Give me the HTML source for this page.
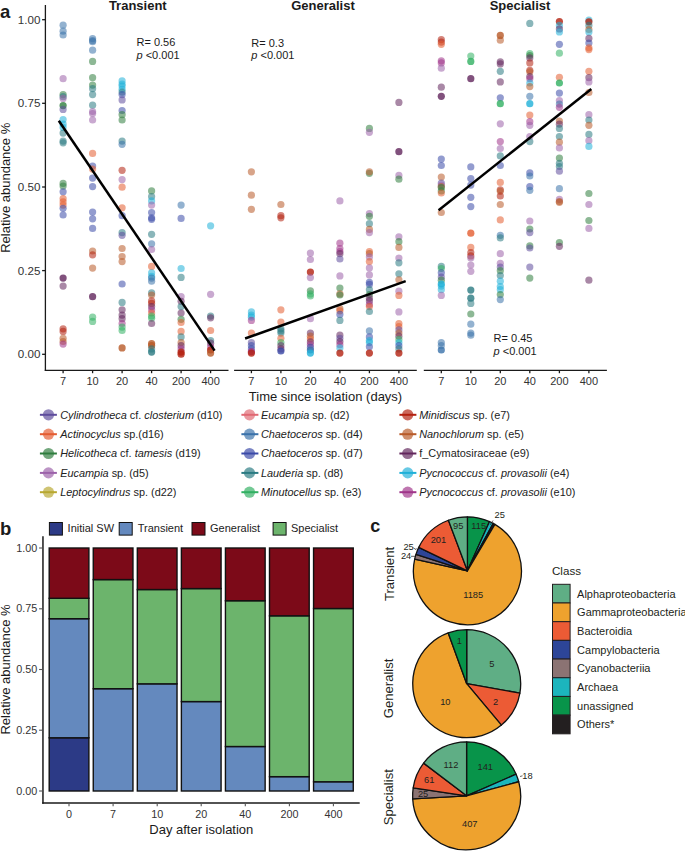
<!DOCTYPE html>
<html><head><meta charset="utf-8"><style>
html,body{margin:0;padding:0;background:#fff;}
svg{display:block;font-family:"Liberation Sans", sans-serif;}
</style></head><body>
<svg width="685" height="851" viewBox="0 0 685 851">
<rect width="685" height="851" fill="#fff"/>
<text x="0" y="17.9" font-size="18.5" font-weight="bold" fill="#1a1a1a">a</text>
<text x="137.8" y="10" font-size="13" font-weight="bold" text-anchor="middle" fill="#1a1a1a">Transient</text>
<text x="323" y="10" font-size="13" font-weight="bold" text-anchor="middle" fill="#1a1a1a">Generalist</text>
<text x="520" y="10" font-size="13" font-weight="bold" text-anchor="middle" fill="#1a1a1a">Specialist</text>
<line x1="45.4" y1="5" x2="45.4" y2="371" stroke="#1a1a1a" stroke-width="1.3"/>
<line x1="42.1" y1="19.7" x2="45.3" y2="19.7" stroke="#1a1a1a" stroke-width="1.3"/>
<text x="40.4" y="23.7" font-size="11.6" text-anchor="end" fill="#333">1.00</text>
<line x1="42.1" y1="103.3" x2="45.3" y2="103.3" stroke="#1a1a1a" stroke-width="1.3"/>
<text x="40.4" y="107.3" font-size="11.6" text-anchor="end" fill="#333">0.75</text>
<line x1="42.1" y1="187.0" x2="45.3" y2="187.0" stroke="#1a1a1a" stroke-width="1.3"/>
<text x="40.4" y="191.0" font-size="11.6" text-anchor="end" fill="#333">0.50</text>
<line x1="42.1" y1="270.6" x2="45.3" y2="270.6" stroke="#1a1a1a" stroke-width="1.3"/>
<text x="40.4" y="274.6" font-size="11.6" text-anchor="end" fill="#333">0.25</text>
<line x1="42.1" y1="354.3" x2="45.3" y2="354.3" stroke="#1a1a1a" stroke-width="1.3"/>
<text x="40.4" y="358.3" font-size="11.6" text-anchor="end" fill="#333">0.00</text>
<text transform="translate(9.9,187.8) rotate(-90)" font-size="13" text-anchor="middle" fill="#1a1a1a">Relative abundance %</text>
<line x1="44.8" y1="370.4" x2="228.5" y2="370.4" stroke="#1a1a1a" stroke-width="1.3"/>
<line x1="63.1" y1="370.4" x2="63.1" y2="373.2" stroke="#1a1a1a" stroke-width="1.3"/>
<text x="63.1" y="384.8" font-size="11" text-anchor="middle" fill="#333">7</text>
<line x1="92.6" y1="370.4" x2="92.6" y2="373.2" stroke="#1a1a1a" stroke-width="1.3"/>
<text x="92.6" y="384.8" font-size="11" text-anchor="middle" fill="#333">10</text>
<line x1="122.1" y1="370.4" x2="122.1" y2="373.2" stroke="#1a1a1a" stroke-width="1.3"/>
<text x="122.1" y="384.8" font-size="11" text-anchor="middle" fill="#333">20</text>
<line x1="151.6" y1="370.4" x2="151.6" y2="373.2" stroke="#1a1a1a" stroke-width="1.3"/>
<text x="151.6" y="384.8" font-size="11" text-anchor="middle" fill="#333">40</text>
<line x1="181.1" y1="370.4" x2="181.1" y2="373.2" stroke="#1a1a1a" stroke-width="1.3"/>
<text x="181.1" y="384.8" font-size="11" text-anchor="middle" fill="#333">200</text>
<line x1="210.6" y1="370.4" x2="210.6" y2="373.2" stroke="#1a1a1a" stroke-width="1.3"/>
<text x="210.6" y="384.8" font-size="11" text-anchor="middle" fill="#333">400</text>
<line x1="234.1" y1="370.4" x2="416.8" y2="370.4" stroke="#1a1a1a" stroke-width="1.3"/>
<line x1="251.4" y1="370.4" x2="251.4" y2="373.2" stroke="#1a1a1a" stroke-width="1.3"/>
<text x="251.4" y="384.8" font-size="11" text-anchor="middle" fill="#333">7</text>
<line x1="280.9" y1="370.4" x2="280.9" y2="373.2" stroke="#1a1a1a" stroke-width="1.3"/>
<text x="280.9" y="384.8" font-size="11" text-anchor="middle" fill="#333">10</text>
<line x1="310.4" y1="370.4" x2="310.4" y2="373.2" stroke="#1a1a1a" stroke-width="1.3"/>
<text x="310.4" y="384.8" font-size="11" text-anchor="middle" fill="#333">20</text>
<line x1="339.9" y1="370.4" x2="339.9" y2="373.2" stroke="#1a1a1a" stroke-width="1.3"/>
<text x="339.9" y="384.8" font-size="11" text-anchor="middle" fill="#333">40</text>
<line x1="369.4" y1="370.4" x2="369.4" y2="373.2" stroke="#1a1a1a" stroke-width="1.3"/>
<text x="369.4" y="384.8" font-size="11" text-anchor="middle" fill="#333">200</text>
<line x1="398.9" y1="370.4" x2="398.9" y2="373.2" stroke="#1a1a1a" stroke-width="1.3"/>
<text x="398.9" y="384.8" font-size="11" text-anchor="middle" fill="#333">400</text>
<line x1="423.8" y1="370.4" x2="606.9" y2="370.4" stroke="#1a1a1a" stroke-width="1.3"/>
<line x1="441.3" y1="370.4" x2="441.3" y2="373.2" stroke="#1a1a1a" stroke-width="1.3"/>
<text x="441.3" y="384.8" font-size="11" text-anchor="middle" fill="#333">7</text>
<line x1="470.8" y1="370.4" x2="470.8" y2="373.2" stroke="#1a1a1a" stroke-width="1.3"/>
<text x="470.8" y="384.8" font-size="11" text-anchor="middle" fill="#333">10</text>
<line x1="500.3" y1="370.4" x2="500.3" y2="373.2" stroke="#1a1a1a" stroke-width="1.3"/>
<text x="500.3" y="384.8" font-size="11" text-anchor="middle" fill="#333">20</text>
<line x1="529.8" y1="370.4" x2="529.8" y2="373.2" stroke="#1a1a1a" stroke-width="1.3"/>
<text x="529.8" y="384.8" font-size="11" text-anchor="middle" fill="#333">40</text>
<line x1="559.4" y1="370.4" x2="559.4" y2="373.2" stroke="#1a1a1a" stroke-width="1.3"/>
<text x="559.4" y="384.8" font-size="11" text-anchor="middle" fill="#333">200</text>
<line x1="588.9" y1="370.4" x2="588.9" y2="373.2" stroke="#1a1a1a" stroke-width="1.3"/>
<text x="588.9" y="384.8" font-size="11" text-anchor="middle" fill="#333">400</text>
<text x="325.5" y="400.6" font-size="13" text-anchor="middle" fill="#1a1a1a">Time since isolation (days)</text>
<circle cx="63.1" cy="25.2" r="3.6" fill="#3a72aa" fill-opacity="0.55"/>
<circle cx="63.1" cy="31.2" r="3.6" fill="#3a72aa" fill-opacity="0.55"/>
<circle cx="63.1" cy="35.0" r="3.6" fill="#3a72aa" fill-opacity="0.55"/>
<circle cx="63.1" cy="78.7" r="3.6" fill="#9c62aa" fill-opacity="0.55"/>
<circle cx="63.1" cy="94.6" r="3.6" fill="#2f7d3e" fill-opacity="0.55"/>
<circle cx="63.1" cy="96.7" r="3.6" fill="#2a7a82" fill-opacity="0.55"/>
<circle cx="63.1" cy="98.4" r="3.6" fill="#9c62aa" fill-opacity="0.55"/>
<circle cx="63.1" cy="105.6" r="3.6" fill="#2f7d3e" fill-opacity="0.8"/>
<circle cx="63.1" cy="109.4" r="3.6" fill="#5e4c9c" fill-opacity="0.55"/>
<circle cx="63.1" cy="119.6" r="3.6" fill="#1fb0d8" fill-opacity="0.55"/>
<circle cx="63.1" cy="124.2" r="3.6" fill="#1fb0d8" fill-opacity="0.55"/>
<circle cx="63.1" cy="127.4" r="3.6" fill="#1fb0d8" fill-opacity="0.55"/>
<circle cx="63.1" cy="133.1" r="3.6" fill="#2a7a82" fill-opacity="0.55"/>
<circle cx="63.1" cy="141.1" r="3.6" fill="#2a7a82" fill-opacity="0.55"/>
<circle cx="63.1" cy="142.8" r="3.6" fill="#2a7a82" fill-opacity="0.55"/>
<circle cx="63.1" cy="183.4" r="3.6" fill="#2f7d3e" fill-opacity="0.55"/>
<circle cx="63.1" cy="186.1" r="3.6" fill="#2f7d3e" fill-opacity="0.55"/>
<circle cx="63.1" cy="191.8" r="3.6" fill="#3b4aa8" fill-opacity="0.55"/>
<circle cx="63.1" cy="198.7" r="3.6" fill="#e45c30" fill-opacity="0.55"/>
<circle cx="63.1" cy="201.9" r="3.6" fill="#e45c30" fill-opacity="0.55"/>
<circle cx="63.1" cy="205.1" r="3.6" fill="#e45c30" fill-opacity="0.55"/>
<circle cx="63.1" cy="208.3" r="3.6" fill="#3b4aa8" fill-opacity="0.55"/>
<circle cx="63.1" cy="215.0" r="3.6" fill="#3b4aa8" fill-opacity="0.55"/>
<circle cx="63.1" cy="278.1" r="3.6" fill="#62265c" fill-opacity="0.8"/>
<circle cx="63.1" cy="286.1" r="3.6" fill="#62265c" fill-opacity="0.55"/>
<circle cx="63.1" cy="328.8" r="3.6" fill="#b3200f" fill-opacity="0.55"/>
<circle cx="63.1" cy="331.4" r="3.6" fill="#b3200f" fill-opacity="0.55"/>
<circle cx="63.1" cy="338.3" r="3.6" fill="#b85a28" fill-opacity="0.55"/>
<circle cx="63.1" cy="341.5" r="3.6" fill="#b85a28" fill-opacity="0.55"/>
<circle cx="63.1" cy="344.1" r="3.6" fill="#a0358a" fill-opacity="0.55"/>
<circle cx="92.6" cy="38.6" r="3.6" fill="#3a72aa" fill-opacity="0.55"/>
<circle cx="92.6" cy="40.7" r="3.6" fill="#3a72aa" fill-opacity="0.55"/>
<circle cx="92.6" cy="41.7" r="3.6" fill="#3a72aa" fill-opacity="0.55"/>
<circle cx="92.6" cy="50.2" r="3.6" fill="#3a72aa" fill-opacity="0.55"/>
<circle cx="92.6" cy="61.4" r="3.6" fill="#2f7d3e" fill-opacity="0.55"/>
<circle cx="92.6" cy="77.7" r="3.6" fill="#2f7d3e" fill-opacity="0.55"/>
<circle cx="92.6" cy="85.1" r="3.6" fill="#2f7d3e" fill-opacity="0.55"/>
<circle cx="92.6" cy="88.7" r="3.6" fill="#2a7a82" fill-opacity="0.55"/>
<circle cx="92.6" cy="94.6" r="3.6" fill="#2a7a82" fill-opacity="0.55"/>
<circle cx="92.6" cy="105.2" r="3.6" fill="#2a7a82" fill-opacity="0.55"/>
<circle cx="92.6" cy="111.5" r="3.6" fill="#9c62aa" fill-opacity="0.55"/>
<circle cx="92.6" cy="113.6" r="3.6" fill="#9c62aa" fill-opacity="0.55"/>
<circle cx="92.6" cy="120.0" r="3.6" fill="#9c62aa" fill-opacity="0.55"/>
<circle cx="92.6" cy="153.4" r="3.6" fill="#e45c30" fill-opacity="0.55"/>
<circle cx="92.6" cy="166.1" r="3.6" fill="#3b4aa8" fill-opacity="0.55"/>
<circle cx="92.6" cy="169.1" r="3.6" fill="#e45c30" fill-opacity="0.55"/>
<circle cx="92.6" cy="178.1" r="3.6" fill="#3b4aa8" fill-opacity="0.55"/>
<circle cx="92.6" cy="186.6" r="3.6" fill="#3b4aa8" fill-opacity="0.55"/>
<circle cx="92.6" cy="212.1" r="3.6" fill="#3b4aa8" fill-opacity="0.55"/>
<circle cx="92.6" cy="218.8" r="3.6" fill="#3b4aa8" fill-opacity="0.55"/>
<circle cx="92.6" cy="228.4" r="3.6" fill="#3b4aa8" fill-opacity="0.55"/>
<circle cx="92.6" cy="251.0" r="3.6" fill="#b85a28" fill-opacity="0.55"/>
<circle cx="92.6" cy="254.8" r="3.6" fill="#b3200f" fill-opacity="0.55"/>
<circle cx="92.6" cy="268.1" r="3.6" fill="#b85a28" fill-opacity="0.55"/>
<circle cx="92.6" cy="296.7" r="3.6" fill="#62265c" fill-opacity="0.8"/>
<circle cx="92.6" cy="317.2" r="3.6" fill="#31b062" fill-opacity="0.55"/>
<circle cx="92.6" cy="321.4" r="3.6" fill="#31b062" fill-opacity="0.55"/>
<circle cx="122.1" cy="80.9" r="3.6" fill="#1fb0d8" fill-opacity="0.55"/>
<circle cx="122.1" cy="84.0" r="3.6" fill="#1fb0d8" fill-opacity="0.55"/>
<circle cx="122.1" cy="86.1" r="3.6" fill="#1fb0d8" fill-opacity="0.55"/>
<circle cx="122.1" cy="89.3" r="3.6" fill="#1fb0d8" fill-opacity="0.55"/>
<circle cx="122.1" cy="92.1" r="3.6" fill="#2a7a82" fill-opacity="0.55"/>
<circle cx="122.1" cy="94.6" r="3.6" fill="#3b4aa8" fill-opacity="0.55"/>
<circle cx="122.1" cy="99.9" r="3.6" fill="#5e4c9c" fill-opacity="0.55"/>
<circle cx="122.1" cy="110.5" r="3.6" fill="#3b4aa8" fill-opacity="0.55"/>
<circle cx="122.1" cy="114.7" r="3.6" fill="#2f7d3e" fill-opacity="0.55"/>
<circle cx="122.1" cy="120.0" r="3.6" fill="#2f7d3e" fill-opacity="0.55"/>
<circle cx="122.1" cy="141.1" r="3.6" fill="#2a7a82" fill-opacity="0.55"/>
<circle cx="122.1" cy="144.3" r="3.6" fill="#3a72aa" fill-opacity="0.55"/>
<circle cx="122.1" cy="170.3" r="3.6" fill="#b3200f" fill-opacity="0.55"/>
<circle cx="122.1" cy="179.6" r="3.6" fill="#9c62aa" fill-opacity="0.55"/>
<circle cx="122.1" cy="187.2" r="3.6" fill="#e45c30" fill-opacity="0.55"/>
<circle cx="122.1" cy="207.8" r="3.6" fill="#e45c30" fill-opacity="0.55"/>
<circle cx="122.1" cy="215.7" r="3.6" fill="#3b4aa8" fill-opacity="0.55"/>
<circle cx="122.1" cy="232.6" r="3.6" fill="#2a7a82" fill-opacity="0.55"/>
<circle cx="122.1" cy="235.3" r="3.6" fill="#5e4c9c" fill-opacity="0.55"/>
<circle cx="122.1" cy="248.5" r="3.6" fill="#b85a28" fill-opacity="0.55"/>
<circle cx="122.1" cy="256.5" r="3.6" fill="#b85a28" fill-opacity="0.55"/>
<circle cx="122.1" cy="261.6" r="3.6" fill="#b85a28" fill-opacity="0.55"/>
<circle cx="122.1" cy="284.0" r="3.6" fill="#3b4aa8" fill-opacity="0.55"/>
<circle cx="122.1" cy="302.4" r="3.6" fill="#2a7a82" fill-opacity="0.55"/>
<circle cx="122.1" cy="309.8" r="3.6" fill="#62265c" fill-opacity="0.55"/>
<circle cx="122.1" cy="315.1" r="3.6" fill="#62265c" fill-opacity="0.55"/>
<circle cx="122.1" cy="318.7" r="3.6" fill="#62265c" fill-opacity="0.55"/>
<circle cx="122.1" cy="323.5" r="3.6" fill="#a0358a" fill-opacity="0.55"/>
<circle cx="122.1" cy="327.1" r="3.6" fill="#31b062" fill-opacity="0.55"/>
<circle cx="122.1" cy="330.5" r="3.6" fill="#31b062" fill-opacity="0.55"/>
<circle cx="122.1" cy="347.9" r="3.6" fill="#b85a28" fill-opacity="0.8"/>
<circle cx="151.6" cy="190.9" r="3.6" fill="#2f7d3e" fill-opacity="0.55"/>
<circle cx="151.6" cy="196.6" r="3.6" fill="#2a7a82" fill-opacity="0.55"/>
<circle cx="151.6" cy="200.9" r="3.6" fill="#1fb0d8" fill-opacity="0.55"/>
<circle cx="151.6" cy="205.1" r="3.6" fill="#9c62aa" fill-opacity="0.55"/>
<circle cx="151.6" cy="212.5" r="3.6" fill="#3b4aa8" fill-opacity="0.55"/>
<circle cx="151.6" cy="217.8" r="3.6" fill="#3b4aa8" fill-opacity="0.55"/>
<circle cx="151.6" cy="219.3" r="3.6" fill="#3b4aa8" fill-opacity="0.55"/>
<circle cx="151.6" cy="234.3" r="3.6" fill="#2a7a82" fill-opacity="0.55"/>
<circle cx="151.6" cy="243.8" r="3.6" fill="#3a72aa" fill-opacity="0.55"/>
<circle cx="151.6" cy="249.5" r="3.6" fill="#9c62aa" fill-opacity="0.55"/>
<circle cx="151.6" cy="266.4" r="3.6" fill="#e45c30" fill-opacity="0.55"/>
<circle cx="151.6" cy="272.8" r="3.6" fill="#1fb0d8" fill-opacity="0.55"/>
<circle cx="151.6" cy="276.4" r="3.6" fill="#1fb0d8" fill-opacity="0.55"/>
<circle cx="151.6" cy="278.1" r="3.6" fill="#3a72aa" fill-opacity="0.55"/>
<circle cx="151.6" cy="281.2" r="3.6" fill="#3a72aa" fill-opacity="0.55"/>
<circle cx="151.6" cy="292.9" r="3.6" fill="#2a7a82" fill-opacity="0.55"/>
<circle cx="151.6" cy="295.0" r="3.6" fill="#b85a28" fill-opacity="0.55"/>
<circle cx="151.6" cy="300.9" r="3.6" fill="#b3200f" fill-opacity="0.55"/>
<circle cx="151.6" cy="303.4" r="3.6" fill="#b3200f" fill-opacity="0.55"/>
<circle cx="151.6" cy="306.6" r="3.6" fill="#62265c" fill-opacity="0.55"/>
<circle cx="151.6" cy="309.8" r="3.6" fill="#a0358a" fill-opacity="0.55"/>
<circle cx="151.6" cy="313.0" r="3.6" fill="#e45c30" fill-opacity="0.55"/>
<circle cx="151.6" cy="316.1" r="3.6" fill="#31b062" fill-opacity="0.55"/>
<circle cx="151.6" cy="318.2" r="3.6" fill="#31b062" fill-opacity="0.55"/>
<circle cx="151.6" cy="323.5" r="3.6" fill="#62265c" fill-opacity="0.55"/>
<circle cx="151.6" cy="343.6" r="3.6" fill="#b85a28" fill-opacity="0.8"/>
<circle cx="151.6" cy="345.7" r="3.6" fill="#b85a28" fill-opacity="0.8"/>
<circle cx="151.6" cy="348.9" r="3.6" fill="#2a7a82" fill-opacity="0.55"/>
<circle cx="151.6" cy="352.1" r="3.6" fill="#2a7a82" fill-opacity="0.8"/>
<circle cx="181.1" cy="205.1" r="3.6" fill="#3a72aa" fill-opacity="0.55"/>
<circle cx="181.1" cy="218.4" r="3.6" fill="#3b4aa8" fill-opacity="0.55"/>
<circle cx="181.1" cy="268.5" r="3.6" fill="#1fb0d8" fill-opacity="0.55"/>
<circle cx="181.1" cy="277.4" r="3.6" fill="#2a7a82" fill-opacity="0.55"/>
<circle cx="181.1" cy="296.7" r="3.6" fill="#9c62aa" fill-opacity="0.55"/>
<circle cx="181.1" cy="301.3" r="3.6" fill="#62265c" fill-opacity="0.55"/>
<circle cx="181.1" cy="306.6" r="3.6" fill="#2a7a82" fill-opacity="0.55"/>
<circle cx="181.1" cy="313.0" r="3.6" fill="#62265c" fill-opacity="0.55"/>
<circle cx="181.1" cy="319.3" r="3.6" fill="#2f7d3e" fill-opacity="0.55"/>
<circle cx="181.1" cy="322.5" r="3.6" fill="#e45c30" fill-opacity="0.55"/>
<circle cx="181.1" cy="331.4" r="3.6" fill="#e45c30" fill-opacity="0.55"/>
<circle cx="181.1" cy="336.9" r="3.6" fill="#2a7a82" fill-opacity="0.55"/>
<circle cx="181.1" cy="342.6" r="3.6" fill="#b85a28" fill-opacity="0.55"/>
<circle cx="181.1" cy="345.7" r="3.6" fill="#62265c" fill-opacity="0.55"/>
<circle cx="181.1" cy="348.9" r="3.6" fill="#a0358a" fill-opacity="0.55"/>
<circle cx="181.1" cy="352.1" r="3.6" fill="#b3200f" fill-opacity="0.8"/>
<circle cx="181.1" cy="354.2" r="3.6" fill="#b3200f" fill-opacity="0.8"/>
<circle cx="210.6" cy="225.8" r="3.6" fill="#1fb0d8" fill-opacity="0.55"/>
<circle cx="210.6" cy="294.3" r="3.6" fill="#9c62aa" fill-opacity="0.55"/>
<circle cx="210.6" cy="316.1" r="3.6" fill="#2a7a82" fill-opacity="0.55"/>
<circle cx="210.6" cy="317.8" r="3.6" fill="#62265c" fill-opacity="0.55"/>
<circle cx="210.6" cy="330.5" r="3.6" fill="#e45c30" fill-opacity="0.55"/>
<circle cx="210.6" cy="340.5" r="3.6" fill="#2a7a82" fill-opacity="0.55"/>
<circle cx="210.6" cy="343.2" r="3.6" fill="#62265c" fill-opacity="0.55"/>
<circle cx="210.6" cy="346.8" r="3.6" fill="#a0358a" fill-opacity="0.55"/>
<circle cx="210.6" cy="350.0" r="3.6" fill="#b3200f" fill-opacity="0.8"/>
<circle cx="210.6" cy="353.1" r="3.6" fill="#b85a28" fill-opacity="0.8"/>
<circle cx="251.4" cy="171.8" r="3.6" fill="#b85a28" fill-opacity="0.55"/>
<circle cx="251.4" cy="195.2" r="3.6" fill="#b85a28" fill-opacity="0.55"/>
<circle cx="251.4" cy="209.3" r="3.6" fill="#b85a28" fill-opacity="0.55"/>
<circle cx="251.4" cy="311.9" r="3.6" fill="#1fb0d8" fill-opacity="0.55"/>
<circle cx="251.4" cy="315.1" r="3.6" fill="#1fb0d8" fill-opacity="0.55"/>
<circle cx="251.4" cy="317.2" r="3.6" fill="#1fb0d8" fill-opacity="0.55"/>
<circle cx="251.4" cy="320.4" r="3.6" fill="#a0358a" fill-opacity="0.55"/>
<circle cx="251.4" cy="333.1" r="3.6" fill="#e45c30" fill-opacity="0.55"/>
<circle cx="251.4" cy="342.6" r="3.6" fill="#5e4c9c" fill-opacity="0.55"/>
<circle cx="251.4" cy="345.7" r="3.6" fill="#3b4aa8" fill-opacity="0.55"/>
<circle cx="251.4" cy="348.9" r="3.6" fill="#3b4aa8" fill-opacity="0.55"/>
<circle cx="251.4" cy="351.7" r="3.6" fill="#a0358a" fill-opacity="0.8"/>
<circle cx="251.4" cy="353.1" r="3.6" fill="#b3200f" fill-opacity="0.8"/>
<circle cx="280.9" cy="204.5" r="3.6" fill="#b85a28" fill-opacity="0.55"/>
<circle cx="280.9" cy="215.7" r="3.6" fill="#b3200f" fill-opacity="0.55"/>
<circle cx="280.9" cy="217.8" r="3.6" fill="#b3200f" fill-opacity="0.55"/>
<circle cx="280.9" cy="309.8" r="3.6" fill="#e45c30" fill-opacity="0.55"/>
<circle cx="280.9" cy="322.1" r="3.6" fill="#e45c30" fill-opacity="0.55"/>
<circle cx="280.9" cy="328.8" r="3.6" fill="#2a7a82" fill-opacity="0.55"/>
<circle cx="280.9" cy="330.9" r="3.6" fill="#2a7a82" fill-opacity="0.55"/>
<circle cx="280.9" cy="333.1" r="3.6" fill="#2a7a82" fill-opacity="0.55"/>
<circle cx="280.9" cy="338.3" r="3.6" fill="#e45c30" fill-opacity="0.55"/>
<circle cx="280.9" cy="342.6" r="3.6" fill="#31b062" fill-opacity="0.55"/>
<circle cx="280.9" cy="345.7" r="3.6" fill="#62265c" fill-opacity="0.55"/>
<circle cx="280.9" cy="348.9" r="3.6" fill="#62265c" fill-opacity="0.55"/>
<circle cx="280.9" cy="351.0" r="3.6" fill="#3b4aa8" fill-opacity="0.8"/>
<circle cx="310.4" cy="253.1" r="3.6" fill="#9c62aa" fill-opacity="0.55"/>
<circle cx="310.4" cy="259.5" r="3.6" fill="#9c62aa" fill-opacity="0.55"/>
<circle cx="310.4" cy="272.1" r="3.6" fill="#b3200f" fill-opacity="0.8"/>
<circle cx="310.4" cy="277.6" r="3.6" fill="#9c62aa" fill-opacity="0.55"/>
<circle cx="310.4" cy="290.8" r="3.6" fill="#2f7d3e" fill-opacity="0.55"/>
<circle cx="310.4" cy="293.9" r="3.6" fill="#31b062" fill-opacity="0.55"/>
<circle cx="310.4" cy="296.0" r="3.6" fill="#31b062" fill-opacity="0.55"/>
<circle cx="310.4" cy="318.7" r="3.6" fill="#9c62aa" fill-opacity="0.55"/>
<circle cx="310.4" cy="333.1" r="3.6" fill="#62265c" fill-opacity="0.55"/>
<circle cx="310.4" cy="336.2" r="3.6" fill="#b85a28" fill-opacity="0.55"/>
<circle cx="310.4" cy="339.0" r="3.6" fill="#e45c30" fill-opacity="0.55"/>
<circle cx="310.4" cy="341.9" r="3.6" fill="#62265c" fill-opacity="0.55"/>
<circle cx="310.4" cy="344.7" r="3.6" fill="#a0358a" fill-opacity="0.55"/>
<circle cx="310.4" cy="347.4" r="3.6" fill="#3b4aa8" fill-opacity="0.55"/>
<circle cx="310.4" cy="350.0" r="3.6" fill="#3a72aa" fill-opacity="0.8"/>
<circle cx="310.4" cy="353.1" r="3.6" fill="#1fb0d8" fill-opacity="0.8"/>
<circle cx="339.9" cy="200.9" r="3.6" fill="#9c62aa" fill-opacity="0.55"/>
<circle cx="339.9" cy="243.2" r="3.6" fill="#a0358a" fill-opacity="0.55"/>
<circle cx="339.9" cy="248.5" r="3.6" fill="#a0358a" fill-opacity="0.55"/>
<circle cx="339.9" cy="251.6" r="3.6" fill="#a0358a" fill-opacity="0.55"/>
<circle cx="339.9" cy="253.7" r="3.6" fill="#62265c" fill-opacity="0.55"/>
<circle cx="339.9" cy="259.0" r="3.6" fill="#5e4c9c" fill-opacity="0.55"/>
<circle cx="339.9" cy="275.9" r="3.6" fill="#9c62aa" fill-opacity="0.55"/>
<circle cx="339.9" cy="288.0" r="3.6" fill="#2f7d3e" fill-opacity="0.55"/>
<circle cx="339.9" cy="293.9" r="3.6" fill="#b85a28" fill-opacity="0.55"/>
<circle cx="339.9" cy="295.0" r="3.6" fill="#2f7d3e" fill-opacity="0.55"/>
<circle cx="339.9" cy="308.7" r="3.6" fill="#b85a28" fill-opacity="0.55"/>
<circle cx="339.9" cy="310.8" r="3.6" fill="#e45c30" fill-opacity="0.55"/>
<circle cx="339.9" cy="314.4" r="3.6" fill="#3b4aa8" fill-opacity="0.55"/>
<circle cx="339.9" cy="320.4" r="3.6" fill="#2a7a82" fill-opacity="0.55"/>
<circle cx="339.9" cy="335.2" r="3.6" fill="#62265c" fill-opacity="0.55"/>
<circle cx="339.9" cy="338.3" r="3.6" fill="#5e4c9c" fill-opacity="0.55"/>
<circle cx="339.9" cy="341.5" r="3.6" fill="#62265c" fill-opacity="0.55"/>
<circle cx="339.9" cy="344.7" r="3.6" fill="#a0358a" fill-opacity="0.55"/>
<circle cx="339.9" cy="347.9" r="3.6" fill="#1fb0d8" fill-opacity="0.55"/>
<circle cx="339.9" cy="353.1" r="3.6" fill="#b3200f" fill-opacity="0.8"/>
<circle cx="369.4" cy="128.4" r="3.6" fill="#2f7d3e" fill-opacity="0.55"/>
<circle cx="369.4" cy="132.3" r="3.6" fill="#9c62aa" fill-opacity="0.55"/>
<circle cx="369.4" cy="173.3" r="3.6" fill="#2f7d3e" fill-opacity="0.55"/>
<circle cx="369.4" cy="171.8" r="3.6" fill="#b85a28" fill-opacity="0.55"/>
<circle cx="369.4" cy="213.6" r="3.6" fill="#9c62aa" fill-opacity="0.55"/>
<circle cx="369.4" cy="216.3" r="3.6" fill="#2f7d3e" fill-opacity="0.55"/>
<circle cx="369.4" cy="223.7" r="3.6" fill="#2a7a82" fill-opacity="0.55"/>
<circle cx="369.4" cy="229.4" r="3.6" fill="#b85a28" fill-opacity="0.55"/>
<circle cx="369.4" cy="232.6" r="3.6" fill="#9c62aa" fill-opacity="0.55"/>
<circle cx="369.4" cy="251.6" r="3.6" fill="#e45c30" fill-opacity="0.55"/>
<circle cx="369.4" cy="253.7" r="3.6" fill="#b85a28" fill-opacity="0.55"/>
<circle cx="369.4" cy="256.9" r="3.6" fill="#9c62aa" fill-opacity="0.55"/>
<circle cx="369.4" cy="261.6" r="3.6" fill="#e45c30" fill-opacity="0.55"/>
<circle cx="369.4" cy="267.9" r="3.6" fill="#9c62aa" fill-opacity="0.55"/>
<circle cx="369.4" cy="274.9" r="3.6" fill="#9c62aa" fill-opacity="0.55"/>
<circle cx="369.4" cy="282.3" r="3.6" fill="#3b4aa8" fill-opacity="0.55"/>
<circle cx="369.4" cy="284.4" r="3.6" fill="#3b4aa8" fill-opacity="0.55"/>
<circle cx="369.4" cy="289.7" r="3.6" fill="#2a7a82" fill-opacity="0.55"/>
<circle cx="369.4" cy="294.6" r="3.6" fill="#2f7d3e" fill-opacity="0.55"/>
<circle cx="369.4" cy="298.2" r="3.6" fill="#62265c" fill-opacity="0.55"/>
<circle cx="369.4" cy="300.9" r="3.6" fill="#62265c" fill-opacity="0.55"/>
<circle cx="369.4" cy="304.5" r="3.6" fill="#a0358a" fill-opacity="0.55"/>
<circle cx="369.4" cy="306.6" r="3.6" fill="#e45c30" fill-opacity="0.55"/>
<circle cx="369.4" cy="311.5" r="3.6" fill="#2a7a82" fill-opacity="0.55"/>
<circle cx="369.4" cy="330.9" r="3.6" fill="#3a72aa" fill-opacity="0.55"/>
<circle cx="369.4" cy="336.9" r="3.6" fill="#3b4aa8" fill-opacity="0.55"/>
<circle cx="369.4" cy="340.5" r="3.6" fill="#1fb0d8" fill-opacity="0.55"/>
<circle cx="369.4" cy="342.6" r="3.6" fill="#1fb0d8" fill-opacity="0.55"/>
<circle cx="369.4" cy="346.8" r="3.6" fill="#3b4aa8" fill-opacity="0.55"/>
<circle cx="369.4" cy="353.1" r="3.6" fill="#b3200f" fill-opacity="0.8"/>
<circle cx="398.9" cy="102.4" r="3.6" fill="#62265c" fill-opacity="0.55"/>
<circle cx="398.9" cy="151.7" r="3.6" fill="#62265c" fill-opacity="0.8"/>
<circle cx="398.9" cy="175.4" r="3.6" fill="#9c62aa" fill-opacity="0.55"/>
<circle cx="398.9" cy="179.2" r="3.6" fill="#2f7d3e" fill-opacity="0.55"/>
<circle cx="398.9" cy="236.8" r="3.6" fill="#9c62aa" fill-opacity="0.55"/>
<circle cx="398.9" cy="241.7" r="3.6" fill="#2f7d3e" fill-opacity="0.55"/>
<circle cx="398.9" cy="247.4" r="3.6" fill="#b85a28" fill-opacity="0.55"/>
<circle cx="398.9" cy="258.0" r="3.6" fill="#9c62aa" fill-opacity="0.55"/>
<circle cx="398.9" cy="262.8" r="3.6" fill="#2a7a82" fill-opacity="0.55"/>
<circle cx="398.9" cy="273.8" r="3.6" fill="#2a7a82" fill-opacity="0.55"/>
<circle cx="398.9" cy="279.8" r="3.6" fill="#b85a28" fill-opacity="0.55"/>
<circle cx="398.9" cy="291.2" r="3.6" fill="#9c62aa" fill-opacity="0.55"/>
<circle cx="398.9" cy="295.4" r="3.6" fill="#e45c30" fill-opacity="0.55"/>
<circle cx="398.9" cy="311.9" r="3.6" fill="#9c62aa" fill-opacity="0.55"/>
<circle cx="398.9" cy="323.5" r="3.6" fill="#e45c30" fill-opacity="0.55"/>
<circle cx="398.9" cy="326.7" r="3.6" fill="#e45c30" fill-opacity="0.55"/>
<circle cx="398.9" cy="329.9" r="3.6" fill="#5e4c9c" fill-opacity="0.55"/>
<circle cx="398.9" cy="333.1" r="3.6" fill="#b85a28" fill-opacity="0.55"/>
<circle cx="398.9" cy="336.2" r="3.6" fill="#62265c" fill-opacity="0.55"/>
<circle cx="398.9" cy="339.4" r="3.6" fill="#31b062" fill-opacity="0.55"/>
<circle cx="398.9" cy="342.6" r="3.6" fill="#1fb0d8" fill-opacity="0.55"/>
<circle cx="398.9" cy="345.7" r="3.6" fill="#3b4aa8" fill-opacity="0.55"/>
<circle cx="398.9" cy="348.9" r="3.6" fill="#2a7a82" fill-opacity="0.55"/>
<circle cx="398.9" cy="353.1" r="3.6" fill="#b3200f" fill-opacity="0.8"/>
<circle cx="441.3" cy="39.6" r="3.6" fill="#b3200f" fill-opacity="0.55"/>
<circle cx="441.3" cy="42.1" r="3.6" fill="#b3200f" fill-opacity="0.55"/>
<circle cx="441.3" cy="44.3" r="3.6" fill="#e45c30" fill-opacity="0.55"/>
<circle cx="441.3" cy="60.8" r="3.6" fill="#a0358a" fill-opacity="0.55"/>
<circle cx="441.3" cy="62.9" r="3.6" fill="#a0358a" fill-opacity="0.55"/>
<circle cx="441.3" cy="68.2" r="3.6" fill="#9c62aa" fill-opacity="0.55"/>
<circle cx="441.3" cy="87.2" r="3.6" fill="#62265c" fill-opacity="0.55"/>
<circle cx="441.3" cy="96.3" r="3.6" fill="#62265c" fill-opacity="0.8"/>
<circle cx="441.3" cy="159.1" r="3.6" fill="#3b4aa8" fill-opacity="0.55"/>
<circle cx="441.3" cy="165.5" r="3.6" fill="#3b4aa8" fill-opacity="0.55"/>
<circle cx="441.3" cy="177.1" r="3.6" fill="#b85a28" fill-opacity="0.55"/>
<circle cx="441.3" cy="183.0" r="3.6" fill="#5e4c9c" fill-opacity="0.55"/>
<circle cx="441.3" cy="185.0" r="3.6" fill="#9c62aa" fill-opacity="0.55"/>
<circle cx="441.3" cy="186.6" r="3.6" fill="#b85a28" fill-opacity="0.55"/>
<circle cx="441.3" cy="187.5" r="3.6" fill="#2f7d3e" fill-opacity="0.55"/>
<circle cx="441.3" cy="190.9" r="3.6" fill="#2f7d3e" fill-opacity="0.55"/>
<circle cx="441.3" cy="193.0" r="3.6" fill="#e45c30" fill-opacity="0.55"/>
<circle cx="441.3" cy="212.5" r="3.6" fill="#b85a28" fill-opacity="0.55"/>
<circle cx="441.3" cy="266.4" r="3.6" fill="#2a7a82" fill-opacity="0.55"/>
<circle cx="441.3" cy="268.5" r="3.6" fill="#31b062" fill-opacity="0.55"/>
<circle cx="441.3" cy="272.8" r="3.6" fill="#3b4aa8" fill-opacity="0.55"/>
<circle cx="441.3" cy="277.0" r="3.6" fill="#5e4c9c" fill-opacity="0.55"/>
<circle cx="441.3" cy="280.2" r="3.6" fill="#2f7d3e" fill-opacity="0.55"/>
<circle cx="441.3" cy="284.0" r="3.6" fill="#1fb0d8" fill-opacity="0.8"/>
<circle cx="441.3" cy="286.1" r="3.6" fill="#1fb0d8" fill-opacity="0.55"/>
<circle cx="441.3" cy="289.7" r="3.6" fill="#1fb0d8" fill-opacity="0.55"/>
<circle cx="441.3" cy="295.4" r="3.6" fill="#9c62aa" fill-opacity="0.55"/>
<circle cx="441.3" cy="342.6" r="3.6" fill="#3a72aa" fill-opacity="0.55"/>
<circle cx="441.3" cy="345.7" r="3.6" fill="#3a72aa" fill-opacity="0.55"/>
<circle cx="441.3" cy="350.0" r="3.6" fill="#3a72aa" fill-opacity="0.8"/>
<circle cx="470.8" cy="56.1" r="3.6" fill="#31b062" fill-opacity="0.55"/>
<circle cx="470.8" cy="61.4" r="3.6" fill="#31b062" fill-opacity="0.8"/>
<circle cx="470.8" cy="78.7" r="3.6" fill="#62265c" fill-opacity="0.8"/>
<circle cx="470.8" cy="166.9" r="3.6" fill="#3b4aa8" fill-opacity="0.55"/>
<circle cx="470.8" cy="178.6" r="3.6" fill="#3b4aa8" fill-opacity="0.55"/>
<circle cx="470.8" cy="185.1" r="3.6" fill="#3b4aa8" fill-opacity="0.55"/>
<circle cx="470.8" cy="197.3" r="3.6" fill="#3b4aa8" fill-opacity="0.55"/>
<circle cx="470.8" cy="206.6" r="3.6" fill="#3b4aa8" fill-opacity="0.55"/>
<circle cx="470.8" cy="233.2" r="3.6" fill="#e45c30" fill-opacity="0.8"/>
<circle cx="470.8" cy="247.4" r="3.6" fill="#e45c30" fill-opacity="0.55"/>
<circle cx="470.8" cy="252.7" r="3.6" fill="#b3200f" fill-opacity="0.55"/>
<circle cx="470.8" cy="255.9" r="3.6" fill="#b3200f" fill-opacity="0.55"/>
<circle cx="470.8" cy="258.0" r="3.6" fill="#9c62aa" fill-opacity="0.55"/>
<circle cx="470.8" cy="265.0" r="3.6" fill="#9c62aa" fill-opacity="0.55"/>
<circle cx="470.8" cy="271.3" r="3.6" fill="#9c62aa" fill-opacity="0.55"/>
<circle cx="470.8" cy="290.1" r="3.6" fill="#2a7a82" fill-opacity="0.8"/>
<circle cx="470.8" cy="298.2" r="3.6" fill="#2a7a82" fill-opacity="0.8"/>
<circle cx="470.8" cy="303.4" r="3.6" fill="#2a7a82" fill-opacity="0.55"/>
<circle cx="470.8" cy="314.0" r="3.6" fill="#2f7d3e" fill-opacity="0.55"/>
<circle cx="470.8" cy="324.2" r="3.6" fill="#3a72aa" fill-opacity="0.55"/>
<circle cx="470.8" cy="333.1" r="3.6" fill="#3a72aa" fill-opacity="0.55"/>
<circle cx="470.8" cy="335.2" r="3.6" fill="#3a72aa" fill-opacity="0.55"/>
<circle cx="500.3" cy="35.4" r="3.6" fill="#b85a28" fill-opacity="0.8"/>
<circle cx="500.3" cy="40.2" r="3.6" fill="#b85a28" fill-opacity="0.55"/>
<circle cx="500.3" cy="61.8" r="3.6" fill="#62265c" fill-opacity="0.55"/>
<circle cx="500.3" cy="63.9" r="3.6" fill="#62265c" fill-opacity="0.55"/>
<circle cx="500.3" cy="71.3" r="3.6" fill="#2a7a82" fill-opacity="0.55"/>
<circle cx="500.3" cy="81.9" r="3.6" fill="#62265c" fill-opacity="0.55"/>
<circle cx="500.3" cy="97.8" r="3.6" fill="#3b4aa8" fill-opacity="0.55"/>
<circle cx="500.3" cy="103.7" r="3.6" fill="#31b062" fill-opacity="0.8"/>
<circle cx="500.3" cy="123.8" r="3.6" fill="#9c62aa" fill-opacity="0.55"/>
<circle cx="500.3" cy="141.6" r="3.6" fill="#a0358a" fill-opacity="0.55"/>
<circle cx="500.3" cy="148.5" r="3.6" fill="#9c62aa" fill-opacity="0.55"/>
<circle cx="500.3" cy="155.9" r="3.6" fill="#2a7a82" fill-opacity="0.55"/>
<circle cx="500.3" cy="165.5" r="3.6" fill="#3b4aa8" fill-opacity="0.55"/>
<circle cx="500.3" cy="182.4" r="3.6" fill="#e45c30" fill-opacity="0.55"/>
<circle cx="500.3" cy="189.8" r="3.6" fill="#b3200f" fill-opacity="0.55"/>
<circle cx="500.3" cy="191.3" r="3.6" fill="#b85a28" fill-opacity="0.55"/>
<circle cx="500.3" cy="196.0" r="3.6" fill="#b3200f" fill-opacity="0.55"/>
<circle cx="500.3" cy="204.5" r="3.6" fill="#b85a28" fill-opacity="0.55"/>
<circle cx="500.3" cy="219.9" r="3.6" fill="#e45c30" fill-opacity="0.55"/>
<circle cx="500.3" cy="235.3" r="3.6" fill="#3a72aa" fill-opacity="0.55"/>
<circle cx="500.3" cy="237.9" r="3.6" fill="#2a7a82" fill-opacity="0.55"/>
<circle cx="500.3" cy="253.7" r="3.6" fill="#9c62aa" fill-opacity="0.55"/>
<circle cx="500.3" cy="263.3" r="3.6" fill="#9c62aa" fill-opacity="0.55"/>
<circle cx="500.3" cy="267.1" r="3.6" fill="#5e4c9c" fill-opacity="0.55"/>
<circle cx="500.3" cy="270.7" r="3.6" fill="#2f7d3e" fill-opacity="0.55"/>
<circle cx="500.3" cy="275.5" r="3.6" fill="#2a7a82" fill-opacity="0.55"/>
<circle cx="500.3" cy="281.2" r="3.6" fill="#1fb0d8" fill-opacity="0.55"/>
<circle cx="500.3" cy="286.5" r="3.6" fill="#1fb0d8" fill-opacity="0.55"/>
<circle cx="500.3" cy="289.7" r="3.6" fill="#1fb0d8" fill-opacity="0.55"/>
<circle cx="500.3" cy="294.6" r="3.6" fill="#2f7d3e" fill-opacity="0.55"/>
<circle cx="500.3" cy="299.6" r="3.6" fill="#3a72aa" fill-opacity="0.55"/>
<circle cx="529.8" cy="23.4" r="3.6" fill="#2a7a82" fill-opacity="0.55"/>
<circle cx="529.8" cy="53.7" r="3.6" fill="#31b062" fill-opacity="0.55"/>
<circle cx="529.8" cy="55.5" r="3.6" fill="#2f7d3e" fill-opacity="0.55"/>
<circle cx="529.8" cy="57.9" r="3.6" fill="#62265c" fill-opacity="0.55"/>
<circle cx="529.8" cy="62.9" r="3.6" fill="#b3200f" fill-opacity="0.55"/>
<circle cx="529.8" cy="70.3" r="3.6" fill="#b3200f" fill-opacity="0.55"/>
<circle cx="529.8" cy="71.8" r="3.6" fill="#b85a28" fill-opacity="0.55"/>
<circle cx="529.8" cy="76.6" r="3.6" fill="#62265c" fill-opacity="0.55"/>
<circle cx="529.8" cy="78.7" r="3.6" fill="#a0358a" fill-opacity="0.55"/>
<circle cx="529.8" cy="83.0" r="3.6" fill="#1fb0d8" fill-opacity="0.55"/>
<circle cx="529.8" cy="86.6" r="3.6" fill="#b85a28" fill-opacity="0.55"/>
<circle cx="529.8" cy="96.3" r="3.6" fill="#3a72aa" fill-opacity="0.55"/>
<circle cx="529.8" cy="103.7" r="3.6" fill="#1fb0d8" fill-opacity="0.8"/>
<circle cx="529.8" cy="115.1" r="3.6" fill="#e45c30" fill-opacity="0.55"/>
<circle cx="529.8" cy="121.7" r="3.6" fill="#a0358a" fill-opacity="0.55"/>
<circle cx="529.8" cy="125.3" r="3.6" fill="#9c62aa" fill-opacity="0.55"/>
<circle cx="529.8" cy="136.5" r="3.6" fill="#9c62aa" fill-opacity="0.55"/>
<circle cx="529.8" cy="141.6" r="3.6" fill="#2a7a82" fill-opacity="0.55"/>
<circle cx="529.8" cy="172.9" r="3.6" fill="#3b4aa8" fill-opacity="0.55"/>
<circle cx="529.8" cy="176.0" r="3.6" fill="#3a72aa" fill-opacity="0.55"/>
<circle cx="529.8" cy="186.6" r="3.6" fill="#3b4aa8" fill-opacity="0.55"/>
<circle cx="529.8" cy="190.3" r="3.6" fill="#3a72aa" fill-opacity="0.55"/>
<circle cx="529.8" cy="221.0" r="3.6" fill="#9c62aa" fill-opacity="0.55"/>
<circle cx="529.8" cy="229.0" r="3.6" fill="#2f7d3e" fill-opacity="0.55"/>
<circle cx="529.8" cy="232.6" r="3.6" fill="#5e4c9c" fill-opacity="0.55"/>
<circle cx="529.8" cy="245.9" r="3.6" fill="#2f7d3e" fill-opacity="0.55"/>
<circle cx="529.8" cy="248.0" r="3.6" fill="#5e4c9c" fill-opacity="0.55"/>
<circle cx="529.8" cy="267.1" r="3.6" fill="#5e4c9c" fill-opacity="0.55"/>
<circle cx="529.8" cy="278.1" r="3.6" fill="#2f7d3e" fill-opacity="0.55"/>
<circle cx="559.4" cy="21.6" r="3.6" fill="#b3200f" fill-opacity="0.8"/>
<circle cx="559.4" cy="25.4" r="3.6" fill="#1fb0d8" fill-opacity="0.55"/>
<circle cx="559.4" cy="28.9" r="3.6" fill="#62265c" fill-opacity="0.55"/>
<circle cx="559.4" cy="31.9" r="3.6" fill="#1fb0d8" fill-opacity="0.55"/>
<circle cx="559.4" cy="44.3" r="3.6" fill="#3b4aa8" fill-opacity="0.55"/>
<circle cx="559.4" cy="53.2" r="3.6" fill="#31b062" fill-opacity="0.55"/>
<circle cx="559.4" cy="77.3" r="3.6" fill="#e45c30" fill-opacity="0.55"/>
<circle cx="559.4" cy="83.0" r="3.6" fill="#31b062" fill-opacity="0.8"/>
<circle cx="559.4" cy="93.1" r="3.6" fill="#3b4aa8" fill-opacity="0.55"/>
<circle cx="559.4" cy="100.5" r="3.6" fill="#9c62aa" fill-opacity="0.55"/>
<circle cx="559.4" cy="104.1" r="3.6" fill="#3a72aa" fill-opacity="0.55"/>
<circle cx="559.4" cy="107.3" r="3.6" fill="#a0358a" fill-opacity="0.55"/>
<circle cx="559.4" cy="121.0" r="3.6" fill="#b85a28" fill-opacity="0.55"/>
<circle cx="559.4" cy="124.2" r="3.6" fill="#62265c" fill-opacity="0.55"/>
<circle cx="559.4" cy="128.4" r="3.6" fill="#2a7a82" fill-opacity="0.55"/>
<circle cx="559.4" cy="136.5" r="3.6" fill="#2a7a82" fill-opacity="0.55"/>
<circle cx="559.4" cy="142.2" r="3.6" fill="#b85a28" fill-opacity="0.55"/>
<circle cx="559.4" cy="147.9" r="3.6" fill="#9c62aa" fill-opacity="0.55"/>
<circle cx="559.4" cy="158.1" r="3.6" fill="#2f7d3e" fill-opacity="0.55"/>
<circle cx="559.4" cy="163.3" r="3.6" fill="#2a7a82" fill-opacity="0.55"/>
<circle cx="559.4" cy="166.5" r="3.6" fill="#2a7a82" fill-opacity="0.55"/>
<circle cx="559.4" cy="171.2" r="3.6" fill="#5e4c9c" fill-opacity="0.55"/>
<circle cx="559.4" cy="188.7" r="3.6" fill="#3a72aa" fill-opacity="0.55"/>
<circle cx="559.4" cy="199.4" r="3.6" fill="#9c62aa" fill-opacity="0.55"/>
<circle cx="559.4" cy="201.5" r="3.6" fill="#b85a28" fill-opacity="0.55"/>
<circle cx="559.4" cy="202.3" r="3.6" fill="#b85a28" fill-opacity="0.55"/>
<circle cx="559.4" cy="242.5" r="3.6" fill="#2f7d3e" fill-opacity="0.55"/>
<circle cx="559.4" cy="246.3" r="3.6" fill="#62265c" fill-opacity="0.55"/>
<circle cx="588.9" cy="20.1" r="3.6" fill="#1fb0d8" fill-opacity="0.55"/>
<circle cx="588.9" cy="21.8" r="3.6" fill="#b3200f" fill-opacity="0.8"/>
<circle cx="588.9" cy="25.4" r="3.6" fill="#2a7a82" fill-opacity="0.55"/>
<circle cx="588.9" cy="29.5" r="3.6" fill="#b85a28" fill-opacity="0.55"/>
<circle cx="588.9" cy="31.9" r="3.6" fill="#1fb0d8" fill-opacity="0.55"/>
<circle cx="588.9" cy="38.4" r="3.6" fill="#62265c" fill-opacity="0.55"/>
<circle cx="588.9" cy="43.1" r="3.6" fill="#3b4aa8" fill-opacity="0.55"/>
<circle cx="588.9" cy="47.8" r="3.6" fill="#e45c30" fill-opacity="0.55"/>
<circle cx="588.9" cy="49.6" r="3.6" fill="#e45c30" fill-opacity="0.55"/>
<circle cx="588.9" cy="71.3" r="3.6" fill="#e45c30" fill-opacity="0.55"/>
<circle cx="588.9" cy="77.7" r="3.6" fill="#62265c" fill-opacity="0.55"/>
<circle cx="588.9" cy="81.9" r="3.6" fill="#9c62aa" fill-opacity="0.55"/>
<circle cx="588.9" cy="92.5" r="3.6" fill="#b85a28" fill-opacity="0.55"/>
<circle cx="588.9" cy="114.7" r="3.6" fill="#9c62aa" fill-opacity="0.55"/>
<circle cx="588.9" cy="120.0" r="3.6" fill="#2a7a82" fill-opacity="0.55"/>
<circle cx="588.9" cy="125.3" r="3.6" fill="#b85a28" fill-opacity="0.55"/>
<circle cx="588.9" cy="134.4" r="3.6" fill="#2a7a82" fill-opacity="0.55"/>
<circle cx="588.9" cy="140.7" r="3.6" fill="#9c62aa" fill-opacity="0.55"/>
<circle cx="588.9" cy="146.4" r="3.6" fill="#1fb0d8" fill-opacity="0.55"/>
<circle cx="588.9" cy="193.5" r="3.6" fill="#2f7d3e" fill-opacity="0.55"/>
<circle cx="588.9" cy="204.5" r="3.6" fill="#9c62aa" fill-opacity="0.55"/>
<circle cx="588.9" cy="220.5" r="3.6" fill="#2f7d3e" fill-opacity="0.55"/>
<circle cx="588.9" cy="228.4" r="3.6" fill="#9c62aa" fill-opacity="0.55"/>
<circle cx="588.9" cy="280.2" r="3.6" fill="#62265c" fill-opacity="0.55"/>
<line x1="58.8" y1="120.8" x2="214.6" y2="350.6" stroke="#000" stroke-width="2.5"/>
<line x1="245.1" y1="338.5" x2="405.7" y2="281.1" stroke="#000" stroke-width="2.5"/>
<line x1="438.6" y1="210.2" x2="591.3" y2="88.9" stroke="#000" stroke-width="2.5"/>
<text x="136.5" y="46" font-size="11" fill="#1a1a1a">R= 0.56</text>
<text x="136.5" y="58.5" font-size="11" fill="#1a1a1a"><tspan font-style="italic">p</tspan> &lt;0.001</text>
<text x="251.3" y="46.5" font-size="11" fill="#1a1a1a">R= 0.3</text>
<text x="251.3" y="59.0" font-size="11" fill="#1a1a1a"><tspan font-style="italic">p</tspan> &lt;0.001</text>
<text x="493.6" y="342.2" font-size="11" fill="#1a1a1a">R= 0.45</text>
<text x="493.6" y="354.7" font-size="11" fill="#1a1a1a"><tspan font-style="italic">p</tspan> &lt;0.001</text>
<circle cx="48.5" cy="414.8" r="5.6" fill="#5e4c9c" fill-opacity="0.68"/>
<line x1="39.9" y1="414.8" x2="56.9" y2="414.8" stroke="#5e4c9c" stroke-width="2"/>
<text x="60.2" y="418.7" font-size="10.9" fill="#222"><tspan font-style="italic">Cylindrotheca</tspan> cf. <tspan font-style="italic">closterium</tspan> (d10)</text>
<circle cx="48.5" cy="434.2" r="5.6" fill="#e45c30" fill-opacity="0.68"/>
<line x1="39.9" y1="434.2" x2="56.9" y2="434.2" stroke="#e45c30" stroke-width="2"/>
<text x="60.2" y="438.1" font-size="10.9" fill="#222"><tspan font-style="italic">Actinocyclus</tspan> sp.(d16)</text>
<circle cx="48.5" cy="453.5" r="5.6" fill="#2f7d3e" fill-opacity="0.68"/>
<line x1="39.9" y1="453.5" x2="56.9" y2="453.5" stroke="#2f7d3e" stroke-width="2"/>
<text x="60.2" y="457.4" font-size="10.9" fill="#222"><tspan font-style="italic">Helicotheca</tspan> cf. <tspan font-style="italic">tamesis</tspan> (d19)</text>
<circle cx="48.5" cy="472.9" r="5.6" fill="#9c62aa" fill-opacity="0.68"/>
<line x1="39.9" y1="472.9" x2="56.9" y2="472.9" stroke="#9c62aa" stroke-width="2"/>
<text x="60.2" y="476.8" font-size="10.9" fill="#222"><tspan font-style="italic">Eucampia</tspan> sp. (d5)</text>
<circle cx="48.5" cy="492.2" r="5.6" fill="#b8a830" fill-opacity="0.68"/>
<line x1="39.9" y1="492.2" x2="56.9" y2="492.2" stroke="#b8a830" stroke-width="2"/>
<text x="60.2" y="496.1" font-size="10.9" fill="#222"><tspan font-style="italic">Leptocylindrus</tspan> sp. (d22)</text>
<circle cx="249.5" cy="414.8" r="5.6" fill="#e06872" fill-opacity="0.68"/>
<line x1="241.4" y1="414.8" x2="258.4" y2="414.8" stroke="#e06872" stroke-width="2"/>
<text x="260.9" y="418.7" font-size="10.9" fill="#222"><tspan font-style="italic">Eucampia</tspan> sp. (d2)</text>
<circle cx="249.5" cy="434.2" r="5.6" fill="#3a72aa" fill-opacity="0.68"/>
<line x1="241.4" y1="434.2" x2="258.4" y2="434.2" stroke="#3a72aa" stroke-width="2"/>
<text x="260.9" y="438.1" font-size="10.9" fill="#222"><tspan font-style="italic">Chaetoceros</tspan> sp. (d4)</text>
<circle cx="249.5" cy="453.5" r="5.6" fill="#3b4aa8" fill-opacity="0.68"/>
<line x1="241.4" y1="453.5" x2="258.4" y2="453.5" stroke="#3b4aa8" stroke-width="2"/>
<text x="260.9" y="457.4" font-size="10.9" fill="#222"><tspan font-style="italic">Chaetoceros</tspan> sp. (d7)</text>
<circle cx="249.5" cy="472.9" r="5.6" fill="#2a7a82" fill-opacity="0.68"/>
<line x1="241.4" y1="472.9" x2="258.4" y2="472.9" stroke="#2a7a82" stroke-width="2"/>
<text x="260.9" y="476.8" font-size="10.9" fill="#222"><tspan font-style="italic">Lauderia</tspan> sp. (d8)</text>
<circle cx="249.5" cy="492.2" r="5.6" fill="#31b062" fill-opacity="0.68"/>
<line x1="241.4" y1="492.2" x2="258.4" y2="492.2" stroke="#31b062" stroke-width="2"/>
<text x="260.9" y="496.1" font-size="10.9" fill="#222"><tspan font-style="italic">Minutocellus</tspan> sp. (e3)</text>
<circle cx="407.7" cy="414.8" r="5.6" fill="#b3200f" fill-opacity="0.68"/>
<line x1="399.4" y1="414.8" x2="416.4" y2="414.8" stroke="#b3200f" stroke-width="2"/>
<text x="419.2" y="418.7" font-size="10.9" fill="#222"><tspan font-style="italic">Minidiscus</tspan> sp. (e7)</text>
<circle cx="407.7" cy="434.2" r="5.6" fill="#b85a28" fill-opacity="0.68"/>
<line x1="399.4" y1="434.2" x2="416.4" y2="434.2" stroke="#b85a28" stroke-width="2"/>
<text x="419.2" y="438.1" font-size="10.9" fill="#222"><tspan font-style="italic">Nanochlorum</tspan> sp. (e5)</text>
<circle cx="407.7" cy="453.5" r="5.6" fill="#62265c" fill-opacity="0.68"/>
<line x1="399.4" y1="453.5" x2="416.4" y2="453.5" stroke="#62265c" stroke-width="2"/>
<text x="419.2" y="457.4" font-size="10.9" fill="#222">f_Cymatosiraceae (e9)</text>
<circle cx="407.7" cy="472.9" r="5.6" fill="#1fb0d8" fill-opacity="0.68"/>
<line x1="399.4" y1="472.9" x2="416.4" y2="472.9" stroke="#1fb0d8" stroke-width="2"/>
<text x="419.2" y="476.8" font-size="10.9" fill="#222"><tspan font-style="italic">Pycnococcus</tspan> cf. <tspan font-style="italic">provasolii</tspan> (e4)</text>
<circle cx="407.7" cy="492.2" r="5.6" fill="#a0358a" fill-opacity="0.68"/>
<line x1="399.4" y1="492.2" x2="416.4" y2="492.2" stroke="#a0358a" stroke-width="2"/>
<text x="419.2" y="496.1" font-size="10.9" fill="#222"><tspan font-style="italic">Pycnococcus</tspan> cf. <tspan font-style="italic">provasolii</tspan> (e10)</text>
<text x="0" y="535.3" font-size="18.5" font-weight="bold" fill="#1a1a1a">b</text>
<rect x="49.4" y="522.5" width="13" height="12.6" fill="#2c3a86" stroke="#111" stroke-width="1"/>
<text x="67.6" y="532.4" font-size="11" fill="#222">Initial SW</text>
<rect x="119.2" y="522.5" width="13" height="12.6" fill="#6489be" stroke="#111" stroke-width="1"/>
<text x="137.7" y="532.4" font-size="11" fill="#222">Transient</text>
<rect x="192.0" y="522.5" width="13" height="12.6" fill="#7c0a18" stroke="#111" stroke-width="1"/>
<text x="210" y="532.4" font-size="11" fill="#222">Generalist</text>
<rect x="273.1" y="522.5" width="13" height="12.6" fill="#6cb46c" stroke="#111" stroke-width="1"/>
<text x="291" y="532.4" font-size="11" fill="#222">Specialist</text>
<line x1="42.96" y1="536.3" x2="42.96" y2="803.75" stroke="#1a1a1a" stroke-width="1.5"/>
<line x1="42.2" y1="803" x2="359.7" y2="803" stroke="#1a1a1a" stroke-width="1.5"/>
<line x1="39.1" y1="548.0" x2="42.3" y2="548.0" stroke="#555" stroke-width="1.1"/>
<text x="37.2" y="551.6" font-size="10.8" text-anchor="end" fill="#333">1.00</text>
<line x1="39.1" y1="608.8" x2="42.3" y2="608.8" stroke="#555" stroke-width="1.1"/>
<text x="37.2" y="612.4" font-size="10.8" text-anchor="end" fill="#333">0.75</text>
<line x1="39.1" y1="669.5" x2="42.3" y2="669.5" stroke="#555" stroke-width="1.1"/>
<text x="37.2" y="673.1" font-size="10.8" text-anchor="end" fill="#333">0.50</text>
<line x1="39.1" y1="730.2" x2="42.3" y2="730.2" stroke="#555" stroke-width="1.1"/>
<text x="37.2" y="733.9" font-size="10.8" text-anchor="end" fill="#333">0.25</text>
<line x1="39.1" y1="791.0" x2="42.3" y2="791.0" stroke="#555" stroke-width="1.1"/>
<text x="37.2" y="794.6" font-size="10.8" text-anchor="end" fill="#333">0.00</text>
<rect x="49.20" y="737.78" width="39.7" height="53.22" fill="#2c3a86" stroke="#111" stroke-width="1.4"/>
<rect x="49.20" y="618.71" width="39.7" height="119.07" fill="#6489be" stroke="#111" stroke-width="1.4"/>
<rect x="49.20" y="598.30" width="39.7" height="20.41" fill="#6cb46c" stroke="#111" stroke-width="1.4"/>
<rect x="49.20" y="548.00" width="39.7" height="50.30" fill="#7c0a18" stroke="#111" stroke-width="1.4"/>
<line x1="69.0" y1="803.5" x2="69.0" y2="806.2" stroke="#555" stroke-width="1.1"/>
<text x="69.0" y="818.4" font-size="10.8" text-anchor="middle" fill="#333">0</text>
<rect x="93.26" y="688.70" width="39.7" height="102.30" fill="#6489be" stroke="#111" stroke-width="1.4"/>
<rect x="93.26" y="579.59" width="39.7" height="109.11" fill="#6cb46c" stroke="#111" stroke-width="1.4"/>
<rect x="93.26" y="548.00" width="39.7" height="31.59" fill="#7c0a18" stroke="#111" stroke-width="1.4"/>
<line x1="113.1" y1="803.5" x2="113.1" y2="806.2" stroke="#555" stroke-width="1.1"/>
<text x="113.1" y="818.4" font-size="10.8" text-anchor="middle" fill="#333">7</text>
<rect x="137.32" y="683.84" width="39.7" height="107.16" fill="#6489be" stroke="#111" stroke-width="1.4"/>
<rect x="137.32" y="589.55" width="39.7" height="94.28" fill="#6cb46c" stroke="#111" stroke-width="1.4"/>
<rect x="137.32" y="548.00" width="39.7" height="41.55" fill="#7c0a18" stroke="#111" stroke-width="1.4"/>
<line x1="157.2" y1="803.5" x2="157.2" y2="806.2" stroke="#555" stroke-width="1.1"/>
<text x="157.2" y="818.4" font-size="10.8" text-anchor="middle" fill="#333">10</text>
<rect x="181.38" y="701.58" width="39.7" height="89.42" fill="#6489be" stroke="#111" stroke-width="1.4"/>
<rect x="181.38" y="588.58" width="39.7" height="113.00" fill="#6cb46c" stroke="#111" stroke-width="1.4"/>
<rect x="181.38" y="548.00" width="39.7" height="40.58" fill="#7c0a18" stroke="#111" stroke-width="1.4"/>
<line x1="201.2" y1="803.5" x2="201.2" y2="806.2" stroke="#555" stroke-width="1.1"/>
<text x="201.2" y="818.4" font-size="10.8" text-anchor="middle" fill="#333">20</text>
<rect x="225.44" y="746.53" width="39.7" height="44.47" fill="#6489be" stroke="#111" stroke-width="1.4"/>
<rect x="225.44" y="600.73" width="39.7" height="145.80" fill="#6cb46c" stroke="#111" stroke-width="1.4"/>
<rect x="225.44" y="548.00" width="39.7" height="52.73" fill="#7c0a18" stroke="#111" stroke-width="1.4"/>
<line x1="245.3" y1="803.5" x2="245.3" y2="806.2" stroke="#555" stroke-width="1.1"/>
<text x="245.3" y="818.4" font-size="10.8" text-anchor="middle" fill="#333">40</text>
<rect x="269.50" y="776.66" width="39.7" height="14.34" fill="#6489be" stroke="#111" stroke-width="1.4"/>
<rect x="269.50" y="615.80" width="39.7" height="160.87" fill="#6cb46c" stroke="#111" stroke-width="1.4"/>
<rect x="269.50" y="548.00" width="39.7" height="67.80" fill="#7c0a18" stroke="#111" stroke-width="1.4"/>
<line x1="289.4" y1="803.5" x2="289.4" y2="806.2" stroke="#555" stroke-width="1.1"/>
<text x="289.4" y="818.4" font-size="10.8" text-anchor="middle" fill="#333">200</text>
<rect x="313.56" y="781.77" width="39.7" height="9.23" fill="#6489be" stroke="#111" stroke-width="1.4"/>
<rect x="313.56" y="608.51" width="39.7" height="173.26" fill="#6cb46c" stroke="#111" stroke-width="1.4"/>
<rect x="313.56" y="548.00" width="39.7" height="60.51" fill="#7c0a18" stroke="#111" stroke-width="1.4"/>
<line x1="333.4" y1="803.5" x2="333.4" y2="806.2" stroke="#555" stroke-width="1.1"/>
<text x="333.4" y="818.4" font-size="10.8" text-anchor="middle" fill="#333">400</text>
<text transform="translate(9.7,669.5) rotate(-90)" font-size="13" text-anchor="middle" fill="#1a1a1a">Relative abundance %</text>
<text x="201.3" y="833.9" font-size="13" text-anchor="middle" fill="#1a1a1a">Day after isolation</text>
<text x="370.3" y="532" font-size="18" font-weight="bold" fill="#1a1a1a">c</text>
<path d="M467.4,570.8 L467.40,516.80 A54,54 0 0 1 489.54,521.55 Z" fill="#08944a" stroke="#111" stroke-width="1.3" stroke-linejoin="round"/>
<path d="M467.4,570.8 L489.54,521.55 A54,54 0 0 1 493.25,523.39 Z" fill="#1cb5bd" stroke="#111" stroke-width="1.3" stroke-linejoin="round"/>
<path d="M467.4,570.8 L493.25,523.39 A54,54 0 0 1 494.89,524.32 Z" fill="#231f20" stroke="#111" stroke-width="1.3" stroke-linejoin="round"/>
<path d="M467.4,570.8 L494.89,524.32 A54,54 0 1 1 414.70,559.02 Z" fill="#eea22e" stroke="#111" stroke-width="1.3" stroke-linejoin="round"/>
<path d="M467.4,570.8 L414.70,559.02 A54,54 0 0 1 415.96,554.38 Z" fill="#8b7373" stroke="#111" stroke-width="1.3" stroke-linejoin="round"/>
<path d="M467.4,570.8 L415.96,554.38 A54,54 0 0 1 418.74,547.38 Z" fill="#2d4598" stroke="#111" stroke-width="1.3" stroke-linejoin="round"/>
<path d="M467.4,570.8 L418.74,547.38 A54,54 0 0 1 448.40,520.25 Z" fill="#ec5b35" stroke="#111" stroke-width="1.3" stroke-linejoin="round"/>
<path d="M467.4,570.8 L448.40,520.25 A54,54 0 0 1 467.40,516.80 Z" fill="#5fae85" stroke="#111" stroke-width="1.3" stroke-linejoin="round"/>
<path d="M466.7,683.7 L466.70,629.70 A54,54 0 0 1 519.88,693.08 Z" fill="#5fae85" stroke="#111" stroke-width="1.3" stroke-linejoin="round"/>
<path d="M466.7,683.7 L519.88,693.08 A54,54 0 0 1 501.41,725.07 Z" fill="#ec5b35" stroke="#111" stroke-width="1.3" stroke-linejoin="round"/>
<path d="M466.7,683.7 L501.41,725.07 A54,54 0 1 1 448.23,632.96 Z" fill="#eea22e" stroke="#111" stroke-width="1.3" stroke-linejoin="round"/>
<path d="M466.7,683.7 L448.23,632.96 A54,54 0 0 1 466.70,629.70 Z" fill="#08944a" stroke="#111" stroke-width="1.3" stroke-linejoin="round"/>
<path d="M466.6,795.8 L466.60,741.80 A54,54 0 0 1 516.10,774.22 Z" fill="#08944a" stroke="#111" stroke-width="1.3" stroke-linejoin="round"/>
<path d="M466.6,795.8 L516.10,774.22 A54,54 0 0 1 518.74,781.75 Z" fill="#1cb5bd" stroke="#111" stroke-width="1.3" stroke-linejoin="round"/>
<path d="M466.6,795.8 L518.74,781.75 A54,54 0 1 1 412.69,798.91 Z" fill="#eea22e" stroke="#111" stroke-width="1.3" stroke-linejoin="round"/>
<path d="M466.6,795.8 L412.69,798.91 A54,54 0 0 1 413.19,787.84 Z" fill="#8b7373" stroke="#111" stroke-width="1.3" stroke-linejoin="round"/>
<path d="M466.6,795.8 L413.19,787.84 A54,54 0 0 1 423.60,763.13 Z" fill="#ec5b35" stroke="#111" stroke-width="1.3" stroke-linejoin="round"/>
<path d="M466.6,795.8 L423.60,763.13 A54,54 0 0 1 466.60,741.80 Z" fill="#5fae85" stroke="#111" stroke-width="1.3" stroke-linejoin="round"/>
<text x="458.2" y="528.6" font-size="9.3" text-anchor="middle" fill="#231f20">95</text>
<text x="478.7" y="528.6" font-size="9.3" text-anchor="middle" fill="#231f20">115</text>
<text x="438.4" y="543" font-size="9.3" text-anchor="middle" fill="#231f20">201</text>
<text x="473.2" y="598.1" font-size="9.3" text-anchor="middle" fill="#231f20">1185</text>
<text x="499.7" y="518.4" font-size="9.3" text-anchor="middle" fill="#231f20">25</text>
<text x="408.6" y="550.1" font-size="9.3" text-anchor="middle" fill="#231f20">25</text>
<text x="406.1" y="559.3" font-size="9.3" text-anchor="middle" fill="#231f20">24</text>
<path d="M493,520.5 L490,525" stroke="#231f20" stroke-width="0.7" fill="none"/>
<path d="M413.5,548 L416,549.5 L416.5,548.5" stroke="#231f20" stroke-width="0.7" fill="none"/>
<path d="M411,556.3 L415,556.3" stroke="#231f20" stroke-width="0.7" fill="none"/>
<text x="491.9" y="666.5" font-size="9.3" text-anchor="middle" fill="#231f20">5</text>
<text x="495.5" y="704.5" font-size="9.3" text-anchor="middle" fill="#231f20">2</text>
<text x="445.3" y="704.5" font-size="9.3" text-anchor="middle" fill="#231f20">10</text>
<text x="459.3" y="643.6" font-size="9.3" text-anchor="middle" fill="#231f20">1</text>
<text x="451" y="768" font-size="9.3" text-anchor="middle" fill="#231f20">112</text>
<text x="485.3" y="769.5" font-size="9.3" text-anchor="middle" fill="#231f20">141</text>
<text x="429.2" y="782.8" font-size="9.3" text-anchor="middle" fill="#231f20">61</text>
<text x="423.1" y="796.9" font-size="9.3" text-anchor="middle" fill="#231f20">25</text>
<text x="469.8" y="827.2" font-size="9.3" text-anchor="middle" fill="#231f20">407</text>
<text x="527.5" y="779.3" font-size="9.3" text-anchor="middle" fill="#231f20">18</text>
<path d="M520,776.5 L522.5,775.8" stroke="#231f20" stroke-width="0.7" fill="none"/>
<text transform="translate(394.3,574.0) rotate(-90)" font-size="13.1" text-anchor="middle" fill="#231f20">Transient</text>
<text transform="translate(392.8,688.4) rotate(-90)" font-size="13.1" text-anchor="middle" fill="#231f20">Generalist</text>
<text transform="translate(393.2,797.2) rotate(-90)" font-size="13.1" text-anchor="middle" fill="#231f20">Specialist</text>
<text x="552" y="574.8" font-size="11.6" fill="#231f20">Class</text>
<rect x="552.5" y="584.30" width="17.6" height="18.69" fill="#5fae85" stroke="#231f20" stroke-width="1"/>
<text x="577.1" y="597.50" font-size="11" fill="#231f20">Alphaproteobacteria</text>
<rect x="552.5" y="602.99" width="17.6" height="18.69" fill="#eea22e" stroke="#231f20" stroke-width="1"/>
<text x="577.1" y="616.19" font-size="11" fill="#231f20">Gammaproteobacteria</text>
<rect x="552.5" y="621.68" width="17.6" height="18.69" fill="#ec5b35" stroke="#231f20" stroke-width="1"/>
<text x="577.1" y="634.88" font-size="11" fill="#231f20">Bacteroidia</text>
<rect x="552.5" y="640.37" width="17.6" height="18.69" fill="#2d4598" stroke="#231f20" stroke-width="1"/>
<text x="577.1" y="653.57" font-size="11" fill="#231f20">Campylobacteria</text>
<rect x="552.5" y="659.06" width="17.6" height="18.69" fill="#8b7373" stroke="#231f20" stroke-width="1"/>
<text x="577.1" y="672.26" font-size="11" fill="#231f20">Cyanobacteriia</text>
<rect x="552.5" y="677.75" width="17.6" height="18.69" fill="#1cb5bd" stroke="#231f20" stroke-width="1"/>
<text x="577.1" y="690.95" font-size="11" fill="#231f20">Archaea</text>
<rect x="552.5" y="696.44" width="17.6" height="18.69" fill="#08944a" stroke="#231f20" stroke-width="1"/>
<text x="577.1" y="709.64" font-size="11" fill="#231f20">unassigned</text>
<rect x="552.5" y="715.13" width="17.6" height="18.69" fill="#231f20" stroke="#231f20" stroke-width="1"/>
<text x="577.1" y="728.33" font-size="11" fill="#231f20">Others*</text>
</svg>
</body></html>
